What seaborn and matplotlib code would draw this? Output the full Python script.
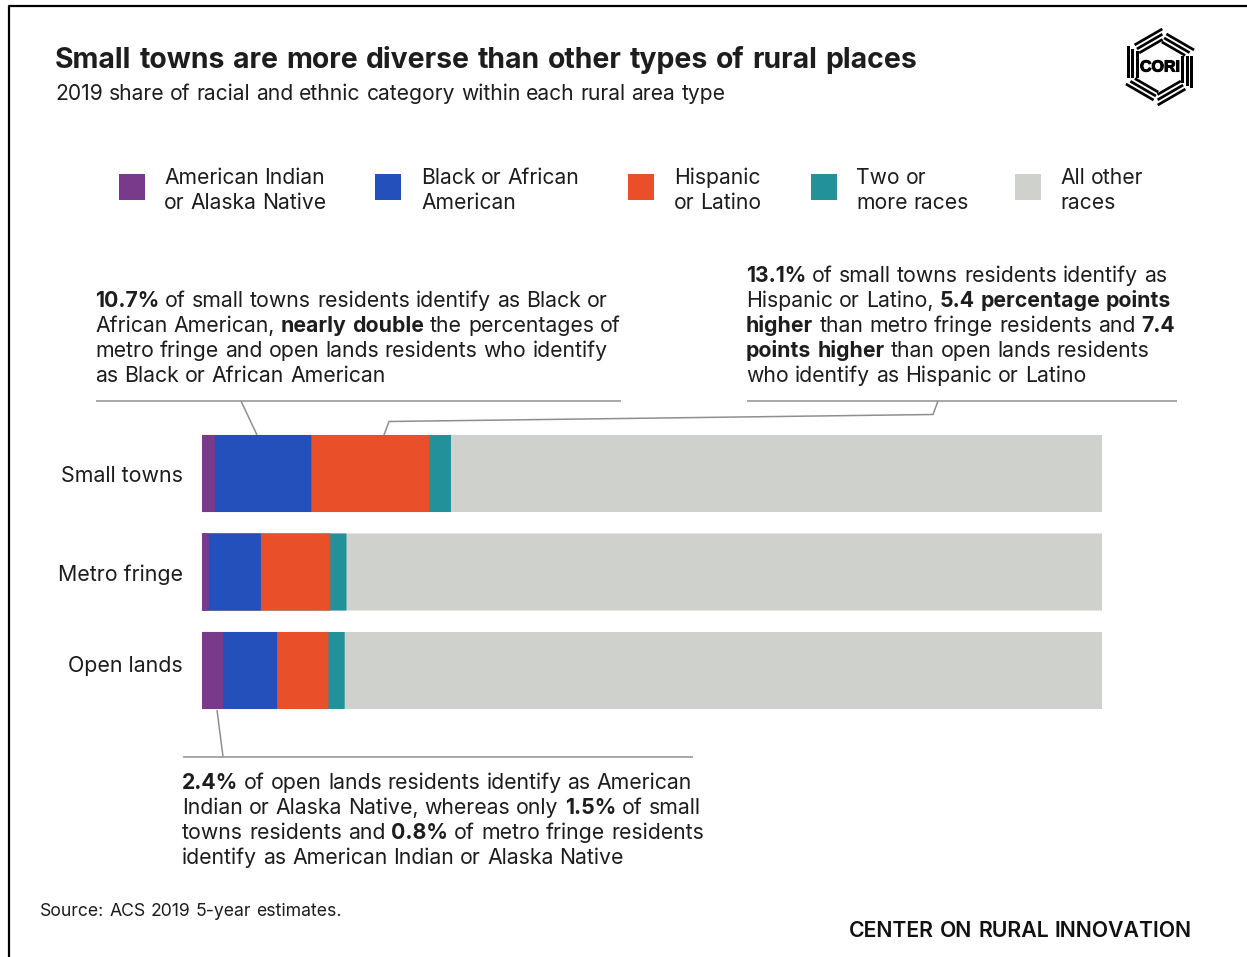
import numpy as np
import pandas as pd
import seaborn as sns
import matplotlib
matplotlib.use("Agg")
import matplotlib.pyplot as plt
import matplotlib.patheffects as path_effects
from matplotlib.lines import Line2D
from matplotlib.patches import Polygon, Rectangle
from matplotlib.transforms import ScaledTranslation

# Shares in percent, one list per racial and ethnic category
areas = ["Small towns", "Metro fringe", "Open lands"]
american_indian = [1.5, 0.8, 2.4]
black = [10.7, 5.8, 6.0]
hispanic = [13.1, 7.7, 5.7]
two_or_more = [2.4, 1.8, 1.8]
all_other = [72.3, 83.9, 84.1]

legend_labels = [
    ["American Indian", "or Alaska Native"],
    ["Black or African", "American"],
    ["Hispanic", "or Latino"],
    ["Two or", "more races"],
    ["All other", "races"],
]
colors = ["#7A3A8B", "#2350BB", "#E95029", "#23919A", "#CFD1CC"]
FONT = "Inter"
INK = "#1d1d1d"
W, H = 1247, 957

sns.set_theme(style="white")
plt.rcParams["font.family"] = [FONT, "DejaVu Sans"]

fig = plt.figure(figsize=(W / 100, H / 100), dpi=100, facecolor="white")

# Stacked bars: cumulative totals drawn from longest to shortest
ax = fig.add_axes([201.5 / W, 1 - 719.75 / H, 900.5 / W, 295.5 / H])
series = [american_indian, black, hispanic, two_or_more, all_other]
cumulative = np.cumsum(np.array(series), axis=0)
for totals, color in zip(cumulative[::-1], colors[::-1]):
    frame = pd.DataFrame({"area": areas, "share": totals})
    sns.barplot(data=frame, x="share", y="area", color=color, orient="h",
                width=0.782, saturation=1, linewidth=0, ax=ax)
for bar in ax.patches:
    bar.set_snap(False)
ax.set_xlim(0, 100)
ax.set_ylim(2.5, -0.5)
ax.set_xlabel("")
ax.set_ylabel("")
ax.set_xticks([])
sns.despine(ax=ax, left=True, bottom=True)
ax.tick_params(axis="y", length=0, pad=13.3)
ax.patch.set_alpha(0)
for label, shift in zip(ax.get_yticklabels(), [0, -1, 6]):
    label.set_fontsize(15.4)
    label.set_color(INK)
    label.set_transform(label.get_transform()
                        + ScaledTranslation(0, shift / 100, fig.dpi_scale_trans))

# Overlay in pixel coordinates for the page furniture
page = fig.add_axes([0, 0, 1, 1], zorder=5)
page.set_xlim(0, W)
page.set_ylim(H, 0)
page.axis("off")
renderer = fig.canvas.get_renderer()


def word_width(word, size, weight):
    probe = page.text(0, 0, word, fontsize=size, fontweight=weight)
    width = probe.get_window_extent(renderer).width
    probe.remove()
    return width


def rich_line(x, baseline, runs, size, color=INK):
    """Draw one line made of (text, weight) runs, word by word."""
    space = word_width("n n", size, "normal") - word_width("nn", size, "normal")
    for text, weight in runs:
        for word in text.split():
            page.text(x, baseline, word, fontsize=size, fontweight=weight,
                      color=color, va="baseline", ha="left")
            x += word_width(word, size, weight) + space


N, B = "normal", "bold"
BODY = 15.3

rich_line(55, 67.5, [("Small towns are more diverse than other types of rural places", B)], 20.45)
rich_line(55, 100, [("2019 share of racial and ethnic category within each rural area type", N)], 15.15)

# Legend
swatch_x = [119, 375, 628, 811, 1015]
text_x = [164, 421, 674, 856, 1060]
for sx, tx, color, lines in zip(swatch_x, text_x, colors, legend_labels):
    page.add_patch(Rectangle((sx, 174), 25.5, 26, facecolor=color, edgecolor="none"))
    rich_line(tx, 184, [(lines[0], N)], 15.2)
    rich_line(tx, 209, [(lines[1], N)], 15.2)

# Callouts
left_note = [
    [("10.7%", B), ("of small towns residents identify as Black or", N)],
    [("African American,", N), ("nearly double", B), ("the percentages of", N)],
    [("metro fringe and open lands residents who identify", N)],
    [("as Black or African American", N)],
]
right_note = [
    [("13.1%", B), ("of small towns residents identify as", N)],
    [("Hispanic or Latino,", N), ("5.4 percentage points", B)],
    [("higher", B), ("than metro fringe residents and", N), ("7.4", B)],
    [("points higher", B), ("than open lands residents", N)],
    [("who identify as Hispanic or Latino", N)],
]
bottom_note = [
    [("2.4%", B), ("of open lands residents identify as American", N)],
    [("Indian or Alaska Native, whereas only", N), ("1.5%", B), ("of small", N)],
    [("towns residents and", N), ("0.8%", B), ("of metro fringe residents", N)],
    [("identify as American Indian or Alaska Native", N)],
]
for x, first, note in [(95, 307, left_note), (746, 282, right_note), (182, 789, bottom_note)]:
    for i, runs in enumerate(note):
        rich_line(x, first + 25 * i, runs, BODY)

# Rules and leader lines
GREY = "#8f8f8f"
leaders = [
    ([96, 621], [401, 401]),
    ([747, 1177], [401, 401]),
    ([183, 693], [756.5, 756.5]),
    ([241, 257], [401, 435]),
    ([384, 389, 933, 938], [435, 421.5, 414.5, 401]),
    ([217, 223], [710, 756.5]),
]
for xs, ys in leaders:
    page.add_line(Line2D(xs, ys, color=GREY, lw=1.1, solid_capstyle="butt"))

# Footer
rich_line(40, 916, [("Source: ACS 2019 5-year estimates.", N)], 12.7)
rich_line(849, 937, [("CENTER ON RURAL INNOVATION", "semibold")], 15.3, color="#111111")

# Page frame along the top and left edges
page.add_line(Line2D([9, 9, W], [H, 6, 6], color="black", lw=1.6))

# Logo: six groups of three stripes turning around a hexagon
cx, cy = 1160, 67
for k in range(6):
    angle = np.deg2rad(60 * k)
    rot = np.array([[np.cos(angle), -np.sin(angle)], [np.sin(angle), np.cos(angle)]])
    for apothem, a, b in [(31.8, -21, 11), (27.2, -18.5, 11), (22.6, -16, 11)]:
        half = 1.35
        corners = np.array([[-apothem - half, a], [-apothem + half, a],
                            [-apothem + half, b], [-apothem - half, b]])
        page.add_patch(Polygon(rot.dot(corners.T).T + [cx, cy], closed=True,
                               facecolor="black", edgecolor="none"))
mark = page.text(cx, cy, "CORI", fontsize=11.5, fontweight="bold", color="black",
                 ha="center", va="center", family=["Liberation Sans", "DejaVu Sans"])
mark.set_path_effects([path_effects.withStroke(linewidth=0.8, foreground="black")])

fig.savefig("out.png", dpi=100, facecolor="white")
